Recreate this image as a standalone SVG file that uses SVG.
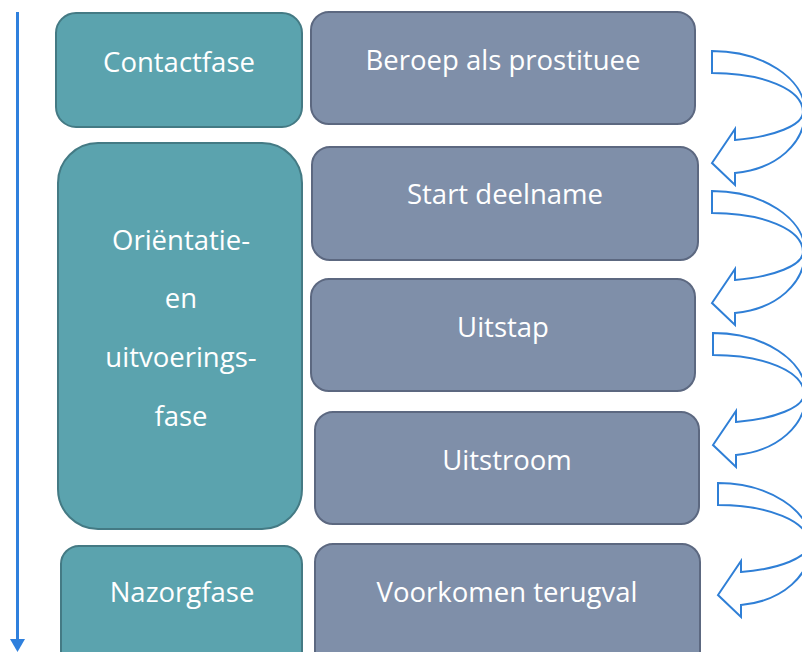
<svg xmlns="http://www.w3.org/2000/svg" width="802" height="652" viewBox="0 0 802 652">
  <style>
    .phase { fill: #5ba3ae; stroke: #447a84; stroke-width: 2; }
    .step { fill: #7f8fa9; stroke: #5c6880; stroke-width: 2; }
    .label { font-family: "Open Sans", "Liberation Sans", sans-serif; font-size: 27.5px; fill: #ffffff; text-anchor: middle; }
    .turn { fill: #ffffff; stroke: #2f7fd6; stroke-width: 2; stroke-linejoin: miter; }
  </style>
  <defs>
    <!-- curved "next step" arrow, origin at the top-left of its tail -->
    <path id="turn-arrow" class="turn"
      d="M0,0 C50,0 93,27 93,61 C93,92 65,118 23,122 L23,134 L0,112 L23,78 L23,89 C62,86 91,74 91,61 C91,38 50,22 0,22 Z"/>
  </defs>

  <rect width="802" height="652" fill="#ffffff"/>

  <!-- phases -->
  <g id="contactfase">
    <rect class="phase" x="56" y="13" width="246" height="114" rx="20"/>
    <text class="label" x="179" y="72">Contactfase</text>
  </g>
  <g id="orientatiefase">
    <rect class="phase" x="58" y="143" width="244" height="386" rx="40"/>
    <text class="label" x="181" y="250">Oriëntatie-</text>
    <text class="label" x="181" y="308">en</text>
    <text class="label" x="181" y="367">uitvoerings-</text>
    <text class="label" x="181" y="426">fase</text>
  </g>
  <g id="nazorgfase">
    <rect class="phase" x="61" y="546" width="241" height="130" rx="18"/>
    <text class="label" x="182" y="602">Nazorgfase</text>
  </g>

  <!-- steps -->
  <g id="beroep">
    <rect class="step" x="311" y="12" width="384" height="112" rx="18"/>
    <text class="label" x="503" y="70">Beroep als prostituee</text>
  </g>
  <g id="start-deelname">
    <rect class="step" x="312" y="147" width="386" height="113" rx="18"/>
    <text class="label" x="505" y="204">Start deelname</text>
  </g>
  <g id="uitstap">
    <rect class="step" x="311" y="279" width="384" height="112" rx="18"/>
    <text class="label" x="503" y="337">Uitstap</text>
  </g>
  <g id="uitstroom">
    <rect class="step" x="315" y="412" width="384" height="112" rx="18"/>
    <text class="label" x="507" y="470">Uitstroom</text>
  </g>
  <g id="voorkomen-terugval">
    <rect class="step" x="315" y="544" width="385" height="130" rx="18"/>
    <text class="label" x="507" y="602">Voorkomen terugval</text>
  </g>

  <!-- connectors -->
  <g id="connectors">
    <line x1="17.5" y1="12" x2="17.5" y2="641" stroke="#2f80dd" stroke-width="3"/>
    <polygon points="10,639 25,639 17.5,652" fill="#2f80dd"/>
    <use href="#turn-arrow" transform="translate(712,51)"/>
    <use href="#turn-arrow" transform="translate(712,191)"/>
    <use href="#turn-arrow" transform="translate(713,333)"/>
    <use href="#turn-arrow" transform="translate(718,483)"/>
  </g>
</svg>
